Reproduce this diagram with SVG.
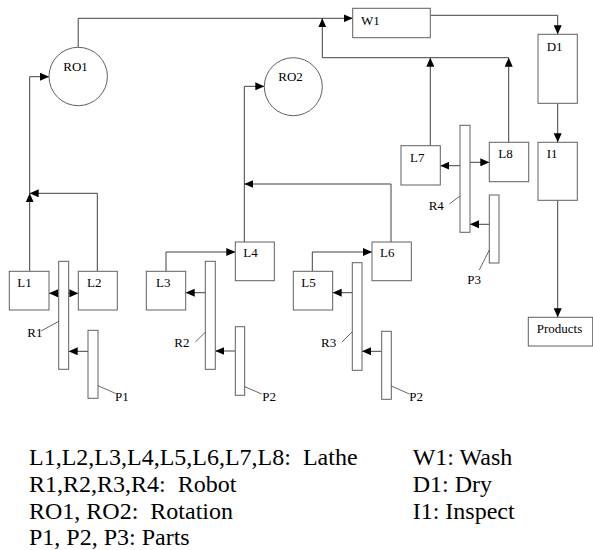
<svg xmlns="http://www.w3.org/2000/svg" width="593" height="550" viewBox="0 0 593 550" font-family="'Liberation Serif', 'DejaVu Serif', 'Times New Roman', serif">
<style>
.box{fill:#fff;stroke:#606060;stroke-width:1}
text{font-family:'Liberation Serif','DejaVu Serif','Times New Roman',serif}
.lbl{font-size:13px;fill:#000}
.leg{font-size:24px;fill:#000;white-space:pre}
.con{fill:none;stroke:#404040;stroke-width:1}
.lead{fill:none;stroke:#404040;stroke-width:0.8}
</style>
<defs>
<marker id="arr" markerWidth="9" markerHeight="8" refX="9" refY="4" orient="auto" markerUnits="userSpaceOnUse">
<path d="M0,0 L9,4 L0,8 z" fill="#000"/>
</marker>
</defs>
<rect width="593" height="550" fill="#fff"/>
<g id="connectors">
<path class="con" d="M78.2,47.3 V18.3 H352.7" marker-end="url(#arr)"/>
<path class="con" d="M508.7,142.3 V57.7" marker-end="url(#arr)"/>
<path class="con" d="M430.3,145.7 V57.7" marker-end="url(#arr)"/>
<path class="con" d="M508.7,57.7 H322.3 V18.3" marker-end="url(#arr)"/>
<path class="con" d="M430.3,15.3 H557.7 V34.3" marker-end="url(#arr)"/>
<path class="con" d="M557.7,103.3 V142.3" marker-end="url(#arr)"/>
<path class="con" d="M557.7,200.3 V317.3" marker-end="url(#arr)"/>
<path class="con" d="M460,165.7 H440.3" marker-end="url(#arr)"/>
<path class="con" d="M470,162.3 H489.3" marker-end="url(#arr)"/>
<path class="con" d="M489.3,224.3 H470" marker-end="url(#arr)"/>
<path class="con" d="M29.7,271.3 V193.3" marker-end="url(#arr)"/>
<path class="con" d="M97.3,271.3 V193.3 H29.7" marker-end="url(#arr)"/>
<path class="con" d="M29.7,193.3 V76.7 H49" marker-end="url(#arr)"/>
<path class="con" d="M58.7,293.3 H49" marker-end="url(#arr)"/>
<path class="con" d="M68.7,293.3 H78.3" marker-end="url(#arr)"/>
<path class="con" d="M88,351.3 H68.7" marker-end="url(#arr)"/>
<path class="con" d="M166,271.3 V252 H235.3" marker-end="url(#arr)"/>
<path class="con" d="M205.3,292.7 H185.7" marker-end="url(#arr)"/>
<path class="con" d="M235.3,351 H215.3" marker-end="url(#arr)"/>
<path class="con" d="M244.3,242 V86.3 H264.3" marker-end="url(#arr)"/>
<path class="con" d="M391,242 V184 H244.3" marker-end="url(#arr)"/>
<path class="con" d="M312.3,271.3 V252 H372" marker-end="url(#arr)"/>
<path class="con" d="M352.3,292.7 H332.7" marker-end="url(#arr)"/>
<path class="con" d="M381.7,351.3 H362" marker-end="url(#arr)"/>
</g>
<g id="RO1"><circle class="box" cx="78.2" cy="76.5" r="29.2"/><text class="lbl" x="63.3" y="70.5">RO1</text></g>
<g id="RO2"><circle class="box" cx="293.3" cy="86.7" r="29"/><text class="lbl" x="278.3" y="80.7">RO2</text></g>
<g id="W1"><rect class="box" x="352.7" y="8.3" width="77.6" height="29.4"/><text class="lbl" x="361" y="24.5">W1</text></g>
<g id="D1"><rect class="box" x="538" y="34.3" width="39.3" height="69"/><text class="lbl" x="546.7" y="50.5">D1</text></g>
<g id="I1"><rect class="box" x="538" y="142.3" width="39.3" height="58"/><text class="lbl" x="546.7" y="158">I1</text></g>
<g id="Products"><rect class="box" x="528.3" y="317.3" width="64.4" height="28.7"/><text class="lbl" x="536.7" y="332.7">Products</text></g>
<g id="L7"><rect class="box" x="401" y="145.7" width="39.3" height="39.3"/><text class="lbl" x="410" y="162">L7</text></g>
<g id="L8"><rect class="box" x="489.3" y="142.3" width="39.4" height="39.4"/><text class="lbl" x="498.3" y="158">L8</text></g>
<g id="R4"><rect class="box" x="460" y="125.3" width="10" height="107"/><path class="lead" d="M449.3,204 L460,196"/><text class="lbl" x="428.7" y="210">R4</text></g>
<g id="P3"><rect class="box" x="489.3" y="195" width="9.7" height="68"/><path class="lead" d="M479.3,270 L489.3,250"/><text class="lbl" x="467.3" y="284">P3</text></g>
<g id="L1"><rect class="box" x="9.3" y="271.3" width="39.7" height="38.7"/><text class="lbl" x="17.3" y="286.7">L1</text></g>
<g id="L2"><rect class="box" x="78.3" y="271.3" width="39" height="38.7"/><text class="lbl" x="87" y="286.7">L2</text></g>
<g id="R1"><rect class="box" x="58.7" y="261.3" width="10" height="108"/><path class="lead" d="M41,331 L58.7,321.3"/><text class="lbl" x="27.3" y="336.7">R1</text></g>
<g id="P1"><rect class="box" x="88" y="330.3" width="10" height="68"/><path class="lead" d="M98,385.7 L115.3,393.3"/><text class="lbl" x="115" y="401.3">P1</text></g>
<g id="L3"><rect class="box" x="146.3" y="271.3" width="39.4" height="38.7"/><text class="lbl" x="156" y="286.7">L3</text></g>
<g id="L4"><rect class="box" x="235.3" y="242" width="39" height="38.7"/><text class="lbl" x="243.3" y="257.3">L4</text></g>
<g id="R2"><rect class="box" x="205.3" y="261.3" width="10" height="108"/><path class="lead" d="M195.3,342 L205.3,332.3"/><text class="lbl" x="174.3" y="346.7">R2</text></g>
<g id="P2a"><rect class="box" x="235.3" y="326.7" width="9.4" height="68.6"/><path class="lead" d="M244.7,386.7 L261.7,394"/><text class="lbl" x="262.3" y="400.5">P2</text></g>
<g id="L5"><rect class="box" x="293.3" y="271.3" width="39.4" height="38.7"/><text class="lbl" x="301.3" y="286.7">L5</text></g>
<g id="L6"><rect class="box" x="372" y="242" width="39.3" height="38.7"/><text class="lbl" x="380" y="257.3">L6</text></g>
<g id="R3"><rect class="box" x="352.3" y="262.7" width="9.7" height="107.6"/><path class="lead" d="M342,342 L352.3,331.7"/><text class="lbl" x="321" y="346.7">R3</text></g>
<g id="P2b"><rect class="box" x="381.7" y="331.3" width="9.6" height="68"/><path class="lead" d="M391.3,386 L409.3,394"/><text class="lbl" x="409.3" y="400.5">P2</text></g>
<g id="legend">
<text class="leg" x="29" y="465">L1,L2,L3,L4,L5,L6,L7,L8:  Lathe</text>
<text class="leg" x="29" y="492">R1,R2,R3,R4:  Robot</text>
<text class="leg" x="29" y="519">RO1, RO2:  Rotation</text>
<text class="leg" x="29" y="545">P1, P2, P3: Parts</text>
<text class="leg" x="412.7" y="465">W1: Wash</text>
<text class="leg" x="412.7" y="492">D1: Dry</text>
<text class="leg" x="412.7" y="519">I1: Inspect</text>
</g>
</svg>
